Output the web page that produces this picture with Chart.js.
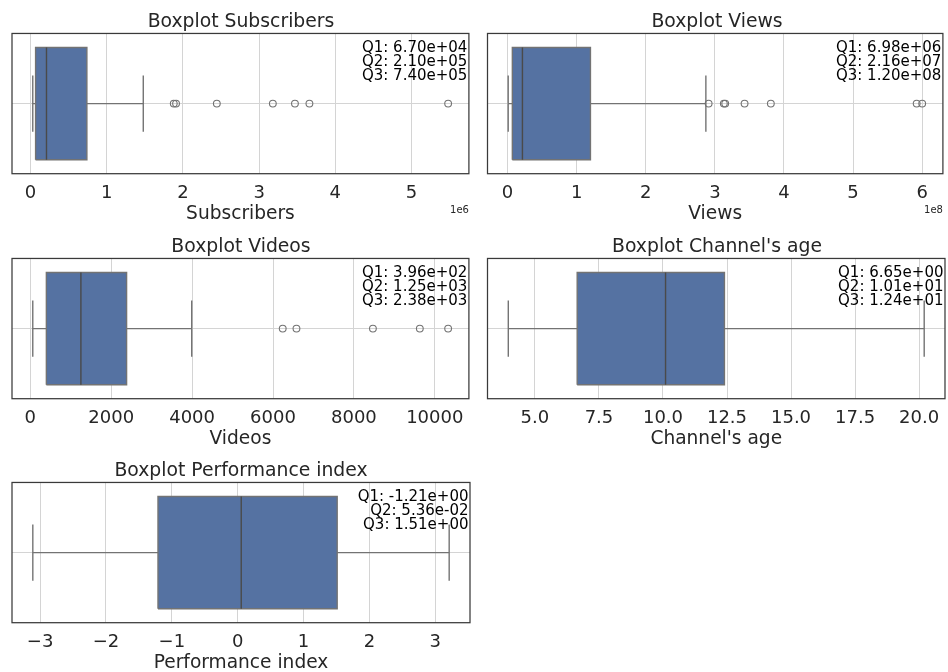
<!DOCTYPE html>
<html>
<head>
<meta charset="utf-8">
<script src="https://cdn.jsdelivr.net/npm/chart.js@4.4.1/dist/chart.umd.min.js"></script>
<style>
  body { margin: 0; background: #fff; }
  #wrap { position: relative; width: 948px; height: 672px; }
  canvas { position: absolute; }
</style>
</head>
<body>
<div id="wrap">
  <canvas id="c0" width="474" height="223" style="left:0;top:0"></canvas>
  <canvas id="c1" width="472" height="223" style="left:476px;top:0"></canvas>
  <canvas id="c2" width="474" height="223" style="left:0;top:225px"></canvas>
  <canvas id="c3" width="472" height="223" style="left:476px;top:225px"></canvas>
  <canvas id="c4" width="474" height="223" style="left:0;top:449px"></canvas>
</div>
<script>
// five-number summaries: [lower whisker, Q1, median, Q3, upper whisker]
const subscribersBox = [3.0e4, 6.70e4, 2.10e5, 7.40e5, 1.48e6]
const subscribersOutliers = [1.88e6, 1.91e6, 2.445e6, 3.18e6, 3.47e6, 3.66e6, 5.48e6]
const subscribersTicks = [0, 1e6, 2e6, 3e6, 4e6, 5e6]
const subscribersTickLabels = ['0', '1', '2', '3', '4', '5']

const viewsBox = [1.0e6, 6.98e6, 2.16e7, 1.20e8, 2.87e8]
const viewsOutliers = [2.91e8, 3.13e8, 3.15e8, 3.43e8, 3.81e8, 5.92e8, 6.00e8]
const viewsTicks = [0, 1e8, 2e8, 3e8, 4e8, 5e8, 6e8]
const viewsTickLabels = ['0', '1', '2', '3', '4', '5', '6']

const videosBox = [60, 396, 1250, 2380, 3990]
const videosOutliers = [6240, 6580, 8470, 9630, 10330]
const videosTicks = [0, 2000, 4000, 6000, 8000, 10000]
const videosTickLabels = ['0', '2000', '4000', '6000', '8000', '10000']

const ageBox = [3.96, 6.65, 10.1, 12.4, 20.2]
const ageOutliers = []
const ageTicks = [5, 7.5, 10, 12.5, 15, 17.5, 20]
const ageTickLabels = ['5.0', '7.5', '10.0', '12.5', '15.0', '17.5', '20.0']

const perfBox = [-3.11, -1.21, 0.0536, 1.51, 3.21]
const perfOutliers = []
const perfTicks = [-3, -2, -1, 0, 1, 2, 3]
const perfTickLabels = ['\u22123', '\u22122', '\u22121', '0', '1', '2', '3']

const TEXT = '#262626'
const GRID = '#d4d4d4'
const FRAME = '#3a3a3a'
const BOX_FILL = '#5572a2'
const EDGE = '#4a4a4a'
const WHISKER = '#737373'
const BOX_HALF = 0.4
const CAP_HALF = 0.2

Chart.defaults.font.family = '"DejaVu Sans", sans-serif'

const panels = [
  { id: 'c0', name: 'Subscribers', box: subscribersBox, outliers: subscribersOutliers, ticks: subscribersTicks, labels: subscribersTickLabels, offset: '1e6', padL: 12, padR: 4 },
  { id: 'c1', name: 'Views', box: viewsBox, outliers: viewsOutliers, ticks: viewsTicks, labels: viewsTickLabels, offset: '1e8', padL: 11.5, padR: 1.5 },
  { id: 'c2', name: 'Videos', box: videosBox, outliers: videosOutliers, ticks: videosTicks, labels: videosTickLabels, offset: '', padL: 12, padR: 4 },
  { id: 'c3', name: "Channel's age", box: ageBox, outliers: ageOutliers, ticks: ageTicks, labels: ageTickLabels, offset: '', padL: 11.5, padR: 1.5 },
  { id: 'c4', name: 'Performance index', box: perfBox, outliers: perfOutliers, ticks: perfTicks, labels: perfTickLabels, offset: '', padL: 12, padR: 4 },
]

// python-style scientific notation, e.g. 6.70e+04
const sci = v => v.toExponential(2).replace(/e([+-])(\d)$/, 'e$10$2')

// axes frame, quartile notes and the offset text under the x axis
const quartileNote = {
  id: 'quartileNote',
  afterDatasetsDraw(chart, args, opts) {
    const { ctx, chartArea: a } = chart
    ctx.save()
    ctx.strokeStyle = FRAME
    ctx.lineWidth = 1.25
    ctx.strokeRect(a.left, a.top, a.right - a.left, a.bottom - a.top)
    ctx.fillStyle = '#000'
    ctx.font = '15px "DejaVu Sans"'
    ctx.textAlign = 'right'
    ctx.textBaseline = 'alphabetic'
    opts.values.forEach((v, i) => ctx.fillText('Q' + (i + 1) + ': ' + sci(v), a.right - 1.5, a.top + 18.2 + i * 14))
    if (opts.offset) {
      ctx.font = '10px "DejaVu Sans"'
      ctx.fillStyle = TEXT
      ctx.fillText(opts.offset, a.right, a.bottom + 39.7)
    }
    ctx.restore()
  }
}

const segment = (pts, color, width, order) => ({
  data: pts, showLine: true, pointRadius: 0, borderColor: color, borderWidth: width, fill: false, order
})

panels.forEach(p => {
  const [lo, q1, q2, q3, hi] = p.box
  const all = [lo, hi, ...p.outliers]
  const dmin = Math.min(...all)
  const dmax = Math.max(...all)
  const margin = (dmax - dmin) * 0.05

  const datasets = [
    segment([{ x: q2, y: -BOX_HALF }, { x: q2, y: BOX_HALF }], EDGE, 1.4, 0),
    {
      data: [{ x: q1, y: -BOX_HALF }, { x: q3, y: -BOX_HALF }, { x: q3, y: BOX_HALF }, { x: q1, y: BOX_HALF }, { x: q1, y: -BOX_HALF }],
      showLine: true, pointRadius: 0, borderColor: WHISKER, borderWidth: 1.4,
      fill: 'shape', backgroundColor: BOX_FILL, order: 1
    },
    segment([{ x: lo, y: 0 }, { x: q1, y: 0 }], WHISKER, 1.4, 2),
    segment([{ x: q3, y: 0 }, { x: hi, y: 0 }], WHISKER, 1.4, 2),
    segment([{ x: lo, y: -CAP_HALF }, { x: lo, y: CAP_HALF }], WHISKER, 1.4, 2),
    segment([{ x: hi, y: -CAP_HALF }, { x: hi, y: CAP_HALF }], WHISKER, 1.4, 2),
    {
      data: p.outliers.map(v => ({ x: v, y: 0 })),
      showLine: false, pointRadius: 3.4, pointBorderWidth: 1.1,
      pointBorderColor: WHISKER, pointBackgroundColor: 'rgba(0,0,0,0)', order: 3
    }
  ]

  new Chart(document.getElementById(p.id), {
    type: 'scatter',
    data: { datasets },
    plugins: [quartileNote],
    options: {
      responsive: false,
      animation: false,
      events: [],
      layout: { padding: { left: p.padL, right: p.padR, top: 0, bottom: 0 } },
      plugins: {
        legend: { display: false },
        tooltip: { enabled: false },
        title: {
          display: true,
          text: 'Boxplot ' + p.name,
          color: TEXT,
          font: { size: 18.8, weight: 'normal', lineHeight: 1.2 },
          padding: { top: 10.4, bottom: 0.5 }
        },
        quartileNote: { values: [q1, q2, q3], offset: p.offset }
      },
      scales: {
        x: {
          type: 'linear',
          min: dmin - margin,
          max: dmax + margin,
          afterBuildTicks: s => { s.ticks = p.ticks.map(v => ({ value: v })) },
          afterFit: s => { s.height = 49.3 },
          ticks: {
            callback: (v, i) => p.labels[i],
            color: TEXT,
            font: { size: 18 },
            padding: 8.8,
            autoSkip: false,
            maxRotation: 0
          },
          grid: { color: GRID, lineWidth: 1, drawTicks: false },
          border: { display: false },
          title: { display: true, text: p.name, color: TEXT, font: { size: 18.6, lineHeight: 1 }, padding: 0 }
        },
        y: {
          type: 'linear',
          min: -0.5,
          max: 0.5,
          afterBuildTicks: s => { s.ticks = [{ value: 0 }] },
          afterFit: s => { s.width = 0 },
          ticks: { display: false },
          grid: { color: GRID, lineWidth: 1, drawTicks: false },
          border: { display: false }
        }
      }
    }
  })
})
</script>
</body>
</html>
